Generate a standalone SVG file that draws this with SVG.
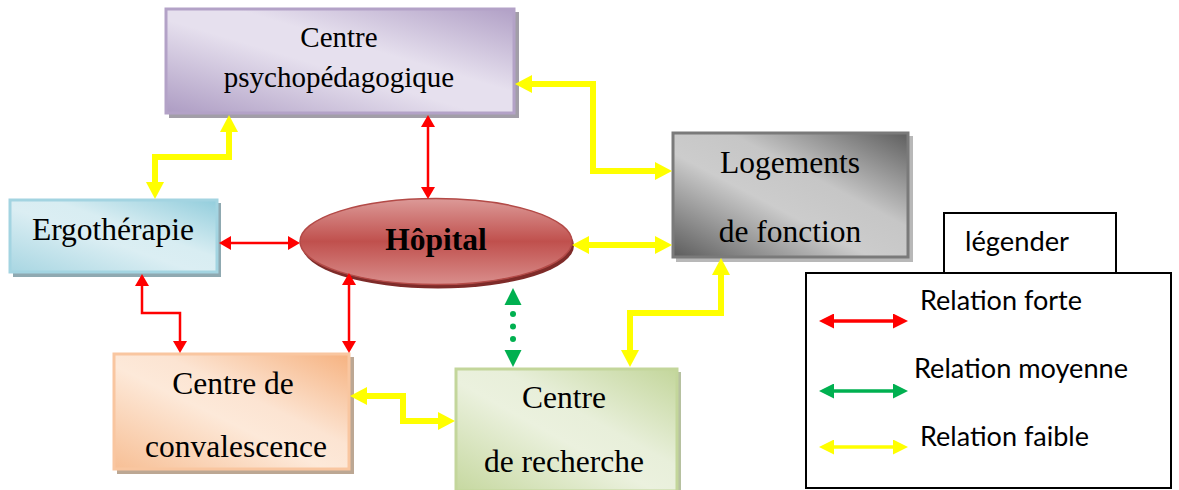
<svg xmlns="http://www.w3.org/2000/svg" width="1179" height="490" viewBox="0 0 1179 490">
  <style>
    .serif { font-family: "Liberation Serif", "Times New Roman", serif; fill: #000; text-anchor: middle; }
    .big { font-size: 31.5px; }
    .small { font-size: 29px; }
    .leg { font-family: Lato, "Open Sans", sans-serif; font-size: 26px; fill: #000; }
    .yel { fill: none; stroke: #ffff00; stroke-width: 6; stroke-linejoin: miter; }
    .red { fill: none; stroke: #ff0000; stroke-width: 2.5; }
    .grn { fill: #00b050; }
    .legbox { fill: #fff; stroke: #000; stroke-width: 2; }
  </style>
  <defs>
    <linearGradient id="gPsy" x1="0" y1="1" x2="1" y2="0">
      <stop offset="0" stop-color="#ad9cc3"/>
      <stop offset="0.45" stop-color="#e6e0ee"/>
      <stop offset="0.6" stop-color="#e6e0ee"/>
      <stop offset="1" stop-color="#b1a0c6"/>
    </linearGradient>
    <linearGradient id="gLog" x1="0" y1="1" x2="1" y2="0">
      <stop offset="0" stop-color="#5c5c5c"/>
      <stop offset="0.42" stop-color="#cccccc"/>
      <stop offset="0.62" stop-color="#c6c6c6"/>
      <stop offset="1" stop-color="#5e5e5e"/>
    </linearGradient>
    <linearGradient id="gErg" x1="0" y1="1" x2="1" y2="0">
      <stop offset="0" stop-color="#a8d6e2"/>
      <stop offset="0.45" stop-color="#dbeef3"/>
      <stop offset="0.6" stop-color="#d8edf2"/>
      <stop offset="1" stop-color="#92cddc"/>
    </linearGradient>
    <linearGradient id="gCon" x1="0" y1="1" x2="1" y2="0">
      <stop offset="0" stop-color="#f7bf95"/>
      <stop offset="0.45" stop-color="#fde9d9"/>
      <stop offset="0.6" stop-color="#fce4d2"/>
      <stop offset="1" stop-color="#f6b280"/>
    </linearGradient>
    <linearGradient id="gRec" x1="0" y1="1" x2="1" y2="0">
      <stop offset="0" stop-color="#c6d8a0"/>
      <stop offset="0.45" stop-color="#ebf1de"/>
      <stop offset="0.6" stop-color="#e8efda"/>
      <stop offset="1" stop-color="#c3d69b"/>
    </linearGradient>
    <linearGradient id="gHop" x1="0" y1="0" x2="0" y2="1">
      <stop offset="0" stop-color="#dc9a98"/>
      <stop offset="0.5" stop-color="#c0504d"/>
      <stop offset="1" stop-color="#d98e8c"/>
    </linearGradient>

    <marker id="aY" markerUnits="userSpaceOnUse" markerWidth="17" markerHeight="18" refX="0" refY="9" orient="auto-start-reverse">
      <path d="M0,0 L17,9 L0,18 z" fill="#ffff00"/>
    </marker>
    <marker id="aR" markerUnits="userSpaceOnUse" markerWidth="12" markerHeight="14" refX="0" refY="7" orient="auto-start-reverse">
      <path d="M0,0 L12,7 L0,14 z" fill="#ff0000"/>
    </marker>
    <marker id="lR" markerUnits="userSpaceOnUse" markerWidth="15" markerHeight="15" refX="0" refY="7.5" orient="auto-start-reverse">
      <path d="M0,0 L15,7.5 L0,15 z" fill="#ff0000"/>
    </marker>
    <marker id="lG" markerUnits="userSpaceOnUse" markerWidth="15" markerHeight="15" refX="0" refY="7.5" orient="auto-start-reverse">
      <path d="M0,0 L15,7.5 L0,15 z" fill="#00b050"/>
    </marker>
    <marker id="lY" markerUnits="userSpaceOnUse" markerWidth="15" markerHeight="15" refX="0" refY="7.5" orient="auto-start-reverse">
      <path d="M0,0 L15,7.5 L0,15 z" fill="#ffff00"/>
    </marker>
  </defs>

  <rect width="1179" height="490" fill="#fff"/>

  <!-- nodes -->
  <g id="centre-psychopedagogique">
    <rect x="169" y="12" width="350" height="106" fill="#a29ea8"/>
    <rect x="166" y="9" width="348" height="104" fill="url(#gPsy)" stroke="#b3a2c7" stroke-width="3"/>
    <text class="serif small" x="339" y="47">Centre</text>
    <text class="serif small" x="339" y="87">psychopédagogique</text>
  </g>

  <g id="logements">
    <rect x="676" y="136" width="237" height="126" fill="#b8b8b8"/>
    <rect x="673" y="133" width="235" height="124" fill="url(#gLog)" stroke="#7a7a7a" stroke-width="3"/>
    <text class="serif big" x="790" y="173">Logements</text>
    <text class="serif big" x="790" y="242">de fonction</text>
  </g>

  <g id="ergotherapie">
    <rect x="13" y="203" width="208" height="74" fill="#8fa9b1"/>
    <rect x="10" y="200" width="207" height="72" fill="url(#gErg)" stroke="#a3d4e1" stroke-width="3"/>
    <text class="serif big" x="113" y="240">Ergothérapie</text>
  </g>

  <g id="hopital">
    <ellipse cx="438" cy="245.5" rx="136" ry="43" fill="#7e2b29"/>
    <ellipse cx="436" cy="241.5" rx="136" ry="43" fill="url(#gHop)" stroke="#b34a47" stroke-width="1.5"/>
    <text class="serif big" x="436" y="250" font-weight="bold">Hôpital</text>
  </g>

  <g id="centre-convalescence">
    <rect x="117" y="357" width="237" height="117" fill="#bca793"/>
    <rect x="114" y="354" width="235" height="115" fill="url(#gCon)" stroke="#f9c6a0" stroke-width="3"/>
    <text class="serif big" x="233" y="394">Centre de</text>
    <text class="serif big" x="236" y="457">convalescence</text>
  </g>

  <g id="centre-recherche">
    <rect x="459" y="372" width="222" height="122" fill="#b6c1a0"/>
    <rect x="456" y="369" width="221" height="122" fill="url(#gRec)" stroke="#c3d69b" stroke-width="3"/>
    <text class="serif big" x="564" y="408">Centre</text>
    <text class="serif big" x="564" y="472">de recherche</text>
  </g>

  <!-- connectors -->
  <g id="connectors">
    <path class="yel" d="M229,132 V157 H155 V182" marker-start="url(#aY)" marker-end="url(#aY)"/>
    <path class="yel" d="M532,84 H593 V171 H655" marker-start="url(#aY)" marker-end="url(#aY)"/>
    <path class="red" d="M428,127 V187" marker-start="url(#aR)" marker-end="url(#aR)"/>
    <path class="red" d="M231,243 H288" marker-start="url(#aR)" marker-end="url(#aR)"/>
    <path class="yel" d="M589,245 H655" marker-start="url(#aY)" marker-end="url(#aY)"/>
    <path class="yel" d="M721,275 V313 H630 V350" marker-start="url(#aY)" marker-end="url(#aY)"/>
    <path class="red" d="M142,286 V313 H180 V341" marker-start="url(#aR)" marker-end="url(#aR)"/>
    <path class="red" d="M349,285 V341" marker-start="url(#aR)" marker-end="url(#aR)"/>
    <!-- dotted medium relation: Hôpital / Centre de recherche -->
    <g id="hopital-recherche">
      <polygon class="grn" points="513,288 521.5,305 504.5,305"/>
      <circle class="grn" cx="513" cy="314" r="3"/>
      <circle class="grn" cx="513" cy="326.5" r="3"/>
      <circle class="grn" cx="513" cy="339" r="3"/>
      <polygon class="grn" points="513,367 521.5,350 504.5,350"/>
    </g>
    <path class="yel" d="M367,396 H403 V421 H438" marker-start="url(#aY)" marker-end="url(#aY)"/>
  </g>

  <!-- legend -->
  <g id="legend">
    <rect class="legbox" x="944" y="213" width="172" height="60"/>
    <rect class="legbox" x="806" y="273" width="365" height="215"/>
    <text class="leg" x="965" y="251" textLength="104" lengthAdjust="spacingAndGlyphs">légender</text>
    <line x1="834" y1="321" x2="893" y2="321" stroke="#ff0000" stroke-width="3.5" marker-start="url(#lR)" marker-end="url(#lR)"/>
    <text class="leg" x="920" y="310" textLength="162" lengthAdjust="spacingAndGlyphs">Relation forte</text>
    <line x1="834" y1="391" x2="893" y2="391" stroke="#00b050" stroke-width="3.5" marker-start="url(#lG)" marker-end="url(#lG)"/>
    <text class="leg" x="914" y="378" textLength="214" lengthAdjust="spacingAndGlyphs">Relation moyenne</text>
    <line x1="834" y1="447" x2="893" y2="447" stroke="#ffff00" stroke-width="3.5" marker-start="url(#lY)" marker-end="url(#lY)"/>
    <text class="leg" x="920" y="446" textLength="169" lengthAdjust="spacingAndGlyphs">Relation faible</text>
  </g>
</svg>
